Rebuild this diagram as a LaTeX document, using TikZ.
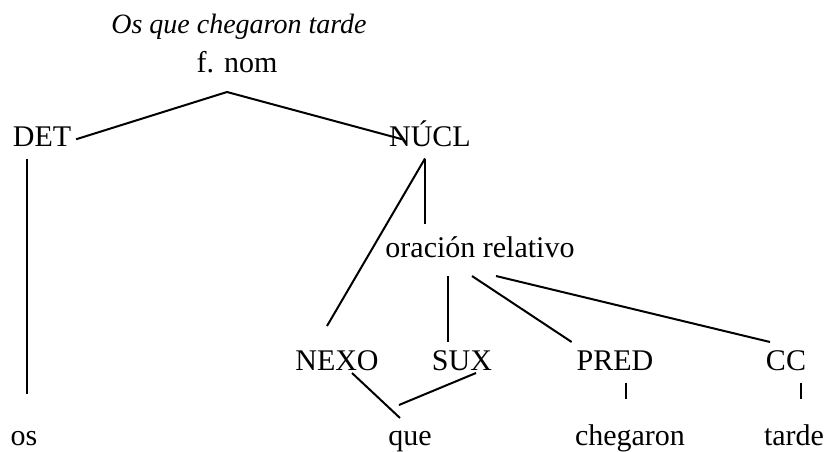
\documentclass[tikz,border=0pt]{standalone}
\usepackage{fontspec}
\setmainfont{Liberation Serif}
\tikzstyle{tree} = [
  x=0.5pt,
  y=-0.5pt,
  line width=1pt,
  every node/.style={
    anchor=base,
    inner sep=2pt,
    text height=10.5pt,
    text depth=3.75pt,
    font=\fontsize{15}{18}\selectfont,
  },
]
\begin{document}
\begin{tikzpicture}[tree]
    \useasboundingbox (0,0) rectangle (826,451);

    % Labels
    \node[font=\fontsize{14}{17}\selectfont\itshape] (title) at (239,33) {Os que chegaron tarde};
    \node (fnom) at (237,72) {f. nom};
    \node (det) at (42,146) {DET};
    \node (nucl) at (430,146) {NÚCL};
    \node (orac) at (480,257) {oración relativo};
    \node (nexo) at (337,370) {NEXO};
    \node (sux) at (462,370) {SUX};
    \node (pred) at (615,370) {PRED};
    \node (cc) at (786,370) {CC};
    \node (os) at (24,445) {os};
    \node (que) at (410,445) {que};
    \node (chegaron) at (630,445) {chegaron};
    \node (tarde) at (794,445) {tarde};

    \coordinate (root) at ([xshift=-5pt,yshift=-3.75pt]fnom.south);

    % Branches
    \draw (det.east) -- (root) -- ([xshift=9pt]nucl.west);
    \draw ([xshift=-7.5pt]det.south) -- ([xshift=1.5pt,yshift=12.5pt]os.north);
    \draw ([xshift=-2.5pt]nucl.south) -- ([xshift=-27.5pt,yshift=3.5pt]orac.north);
    \draw ([xshift=-2.5pt]nucl.south) -- ([xshift=-5pt,yshift=9pt]nexo.north);
    \draw ([xshift=-16pt,yshift=-3.25pt]orac.south) -- ([xshift=-7pt,yshift=1pt]sux.north);
    \draw ([xshift=-4pt,yshift=-3.25pt]orac.south) -- ([yshift=1pt]pred.north west);
    \draw ([xshift=8pt,yshift=-3.25pt]orac.south) -- ([xshift=4.5pt,yshift=1pt]cc.north west);
    \draw ([xshift=7.5pt,yshift=4.75pt]nexo.south) -- ([xshift=-5pt,yshift=0.5pt]que.north);
    \draw ([xshift=7pt,yshift=4.75pt]sux.south) -- ([xshift=-5.5pt,yshift=7pt]que.north);
    \draw ([xshift=5.5pt]pred.south) -- ([xshift=-2pt,yshift=10pt]chegaron.north);
    \draw ([xshift=7.5pt]cc.south) -- ([xshift=3.5pt,yshift=10pt]tarde.north);
\end{tikzpicture}
\end{document}
